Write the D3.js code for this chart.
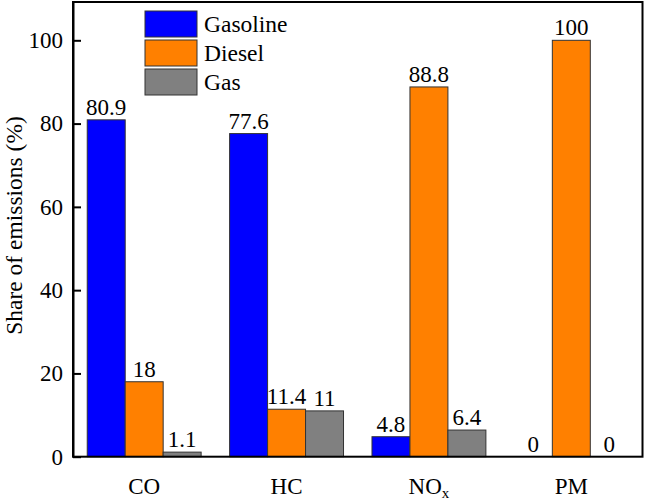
<!DOCTYPE html>
<html>
<head>
<meta charset="utf-8">
<script src="https://cdn.jsdelivr.net/npm/d3@7/dist/d3.min.js"></script>
<style>
  body { margin: 0; background: #fff; }
  svg, svg text { font-family: "Liberation Serif", "Times New Roman", serif; }
  svg { display: block; }
</style>
</head>
<body>
<svg id="chart" width="645" height="502"></svg>
<script>
const categories = ["CO", "HC", "NOx", "PM"];
const seriesNames = ["Gasoline", "Diesel", "Gas"];
const gasoline = [80.9, 77.6, 4.8, 0];
const diesel = [18, 11.4, 88.8, 100];
const gas = [1.1, 11, 6.4, 0];
const yTicks = [0, 20, 40, 60, 80, 100];
const colors = ["#0000ff", "#ff8000", "#808080"];

(function () {
const seriesValues = [gasoline, diesel, gas];
const FF = "Liberation Serif";
const svg = d3.select("#chart").attr("font-family", FF);
const pL = 73, pR = 642.5, pT = 2, pB = 456.7;
const fs = 23;

const x = d3.scaleBand().domain(categories).range([pL, pR]).paddingInner(0.2).paddingOuter(0.1);
const xs = d3.scaleBand().domain(seriesNames).range([0, x.bandwidth()]);
const y = d3.scaleLinear().domain([0, 109.2]).range([pB, pT]);

// bars
const groups = svg.append("g").selectAll("g").data(categories).join("g")
  .attr("transform", d => `translate(${x(d)},0)`);
groups.selectAll("rect")
  .data((c, i) => seriesNames.map((s, j) => ({ s, j, v: seriesValues[j][i] })))
  .join("rect")
  .attr("x", d => xs(d.s))
  .attr("width", xs.bandwidth())
  .attr("y", d => y(d.v))
  .attr("height", d => y(0) - y(d.v))
  .attr("fill", d => colors[d.j])
  .attr("stroke", d => d.v > 0 ? "#333" : "none")
  .attr("stroke-width", 1);
groups.selectAll("text")
  .data((c, i) => seriesNames.map((s, j) => ({ s, j, v: seriesValues[j][i] })))
  .join("text")
  .attr("x", d => xs(d.s) + xs.bandwidth() / 2)
  .attr("y", d => y(d.v) - 5)
  .attr("text-anchor", "middle")
  .attr("font-family", FF)
  .attr("font-size", fs)
  .attr("fill", "#000")
  .text(d => d.v);

// frame
svg.append("rect").attr("x", pL).attr("y", pT).attr("width", pR - pL).attr("height", pB - pT)
  .attr("fill", "none").attr("stroke", "#000").attr("stroke-width", 2);

// y axis
const yAxis = d3.axisLeft(y).tickValues(yTicks).tickSizeInner(-8).tickSizeOuter(0).tickPadding(10);
const ya = svg.append("g").attr("transform", `translate(${pL},0)`).call(yAxis)
  .attr("font-family", FF).attr("font-size", fs);
ya.select(".domain").attr("stroke", "#000").attr("stroke-width", 2);
ya.selectAll(".tick line").attr("stroke", "#000").attr("stroke-width", 2);
ya.selectAll(".tick text").attr("font-size", fs).attr("font-family", FF).attr("fill", "#000");

// x labels
const xl = svg.append("g").selectAll("text").data(categories).join("text")
  .attr("x", d => x(d) + x.bandwidth() / 2)
  .attr("y", 494)
  .attr("text-anchor", "middle")
  .attr("font-family", FF)
  .attr("font-size", fs)
  .attr("fill", "#000");
xl.each(function(d) {
  const t = d3.select(this);
  if (d === "NOx") {
    t.append("tspan").text("NO");
    t.append("tspan").text("x").attr("font-size", 15).attr("dy", 4);
  } else {
    t.text(d);
  }
});

// y title
svg.append("text")
  .attr("transform", `translate(21.5,225.5) rotate(-90)`)
  .attr("text-anchor", "middle")
  .attr("font-family", FF)
  .attr("font-size", 23.5)
  .attr("fill", "#000")
  .text("Share of emissions (%)");

// legend
const lg = svg.append("g").selectAll("g").data(seriesNames).join("g")
  .attr("transform", (d, i) => `translate(145,${11 + i * 29})`);
lg.append("rect").attr("width", 52).attr("height", 26)
  .attr("fill", (d, i) => colors[i]).attr("stroke", "#333").attr("stroke-width", 1);
lg.append("text").attr("x", 59).attr("y", 21).attr("font-family", FF).attr("font-size", 23.5)
  .attr("fill", "#000").text(d => d);
})();
</script>
</body>
</html>
